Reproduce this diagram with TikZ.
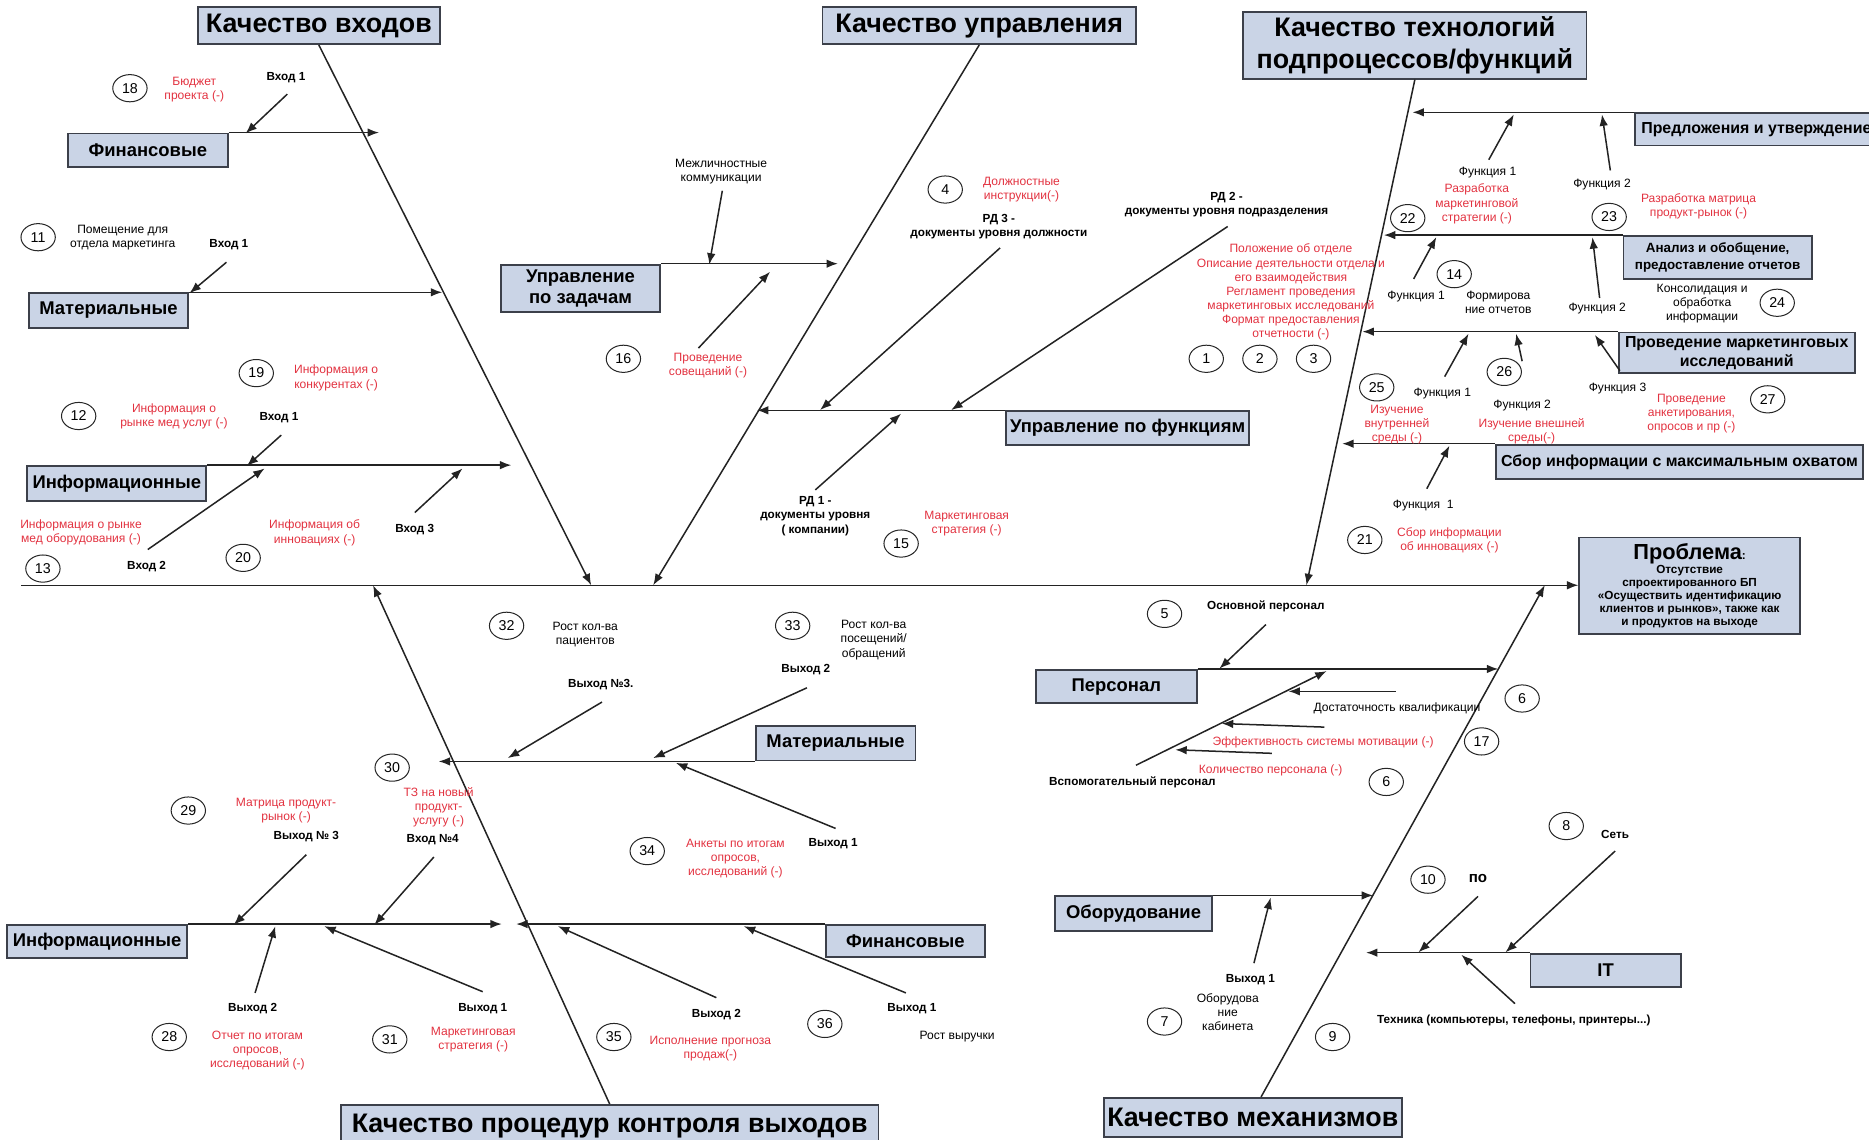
\documentclass[tikz,border=0pt]{standalone}
\usepackage{fontspec}
\setmainfont{Liberation Sans}
\usetikzlibrary{arrows.meta,shapes.geometric,calc}
\definecolor{boxfill}{RGB}{202,212,230}
\definecolor{boxline}{RGB}{60,64,74}
\definecolor{redtxt}{RGB}{226,50,64}
\definecolor{lnclr}{RGB}{35,35,35}
\begin{document}
\begin{tikzpicture}[x=0.025cm,y=-0.025cm,
    box/.style={draw=boxline,fill=boxfill,line width=1.1pt,inner sep=1pt,align=center},
    cat/.style={box,font=\bfseries\fontsize{16}{18.5}\selectfont},
    sub/.style={box,font=\bfseries\fontsize{11}{13}\selectfont},
    num/.style={ellipse,draw=black!85,line width=0.6pt,minimum width=0.72cm,
      minimum height=0.57cm,inner sep=0pt,font=\fontsize{8.5}{9}\selectfont},
    txt/.style={align=center,inner sep=0pt,font=\fontsize{7.2}{8.4}\selectfont},
    red/.style={txt,text=redtxt},
    lbl/.style={align=center,inner sep=0pt,font=\bfseries\fontsize{7}{8.4}\selectfont},
    arr/.style={draw=lnclr,line width=0.9pt,-{Latex[length=2.4mm,width=1.8mm]}},
  ]
  \useasboundingbox (0,0) rectangle (1568,956);

  \node[cat,minimum width=5.075cm,minimum height=0.775cm] (qin) at (267.5,21.5) {Качество входов};
  \node[cat,minimum width=6.575cm,minimum height=0.775cm] (qup) at (821.5,21.5) {Качество управления};
  \node[cat,minimum width=7.2cm,minimum height=1.4cm] (qtech) at (1187,38) {Качество технологий\\подпроцессов/функций};
  \node[cat,minimum width=11.275cm,minimum height=0.875cm] (qctl) at (511.5,944.5) {Качество процедур контроля выходов};
  \node[cat,minimum width=6.25cm,minimum height=0.825cm] (qmech) at (1051,937.5) {Качество механизмов};
  \node[box,minimum width=4.625cm,minimum height=2.025cm,font=\bfseries\fontsize{7}{7.8}\selectfont] (prob) at (1417.5,491.5)
    {{\fontsize{13}{15}\selectfont Проблема}:\\Отсутствие\\спроектированного БП\\«Осуществить идентификацию\\клиентов и рынков», также как\\и продуктов на выходе};

  \coordinate (s0) at (18,491);
  \draw[arr] (s0) -- (s0 -| prob.west);
  \coordinate (sp1) at (496,491);
  \coordinate (sp2) at (548,491);
  \coordinate (sp3) at (1096,491);
  \coordinate (sp4) at (313,491);
  \coordinate (sp5) at (1296,491);
  \draw[arr] (qin.south) -- (sp1);
  \draw[arr] (qup.south) -- (sp2);
  \draw[arr] (qtech.south) -- (sp3);
  \draw[arr] (qctl.north) -- (sp4);
  \draw[arr] ($(qmech.north)+(7,0)$) -- (sp5);

  \node[sub,minimum width=3.35cm,minimum height=0.7cm] (fin) at (124,126) {Финансовые};
  \node[sub,minimum width=3.35cm,minimum height=0.725cm] (mat) at (91,260.5) {Материальные};
  \node[sub,minimum width=3.75cm,minimum height=0.725cm] (inf) at (98,405.5) {Информационные};
  \node[sub,minimum width=3.35cm,minimum height=1cm] (zad) at (487,242) {Управление\\по задачам};
  \node[sub,minimum width=5.1cm,minimum height=0.7cm] (fun) at (946,359) {Управление по функциям};
  \node[sub,font=\bfseries\fontsize{9.5}{11}\selectfont,minimum width=5.075cm,minimum height=0.675cm] (pred) at (1473.5,108.5) {Предложения и утверждение};
  \node[sub,font=\bfseries\fontsize{8}{10}\selectfont,minimum width=3.95cm,minimum height=0.9cm] (anal) at (1441,216) {Анализ и обобщение,\\предоставление отчетов};
  \node[sub,font=\bfseries\fontsize{9.5}{11.5}\selectfont,minimum width=4.95cm,minimum height=0.85cm] (mark) at (1457,296) {Проведение маркетинговых\\исследований};
  \node[sub,font=\bfseries\fontsize{9.5}{11.5}\selectfont,minimum width=7.7cm,minimum height=0.725cm] (sbor) at (1409,387.5) {Сбор информации с максимальным охватом};
  \node[sub,minimum width=3.35cm,minimum height=0.725cm] (mat2) at (701,623.5) {Материальные};
  \node[sub,minimum width=3.775cm,minimum height=0.7cm] (inf2) at (81.5,790) {Информационные};
  \node[sub,minimum width=3.325cm,minimum height=0.675cm] (fin2) at (759.5,789.5) {Финансовые};
  \node[sub,minimum width=3.375cm,minimum height=0.7cm] (pers) at (936.5,576) {Персонал};
  \node[sub,minimum width=3.3cm,minimum height=0.725cm] (obor) at (951,766.5) {Оборудование};
  \node[sub,minimum width=3.15cm,minimum height=0.7cm] (it) at (1347,814) {IT};

  \foreach \b/\a/\x in {fin/north east/318, mat/north east/371, inf/north east/429,
      zad/north east/703, fun/north west/635, pred/north west/1185, anal/north west/1161,
      mark/north west/1143, sbor/north west/1126, mat2/south west/368, inf2/north east/421,
      fin2/north west/433, pers/north east/1257, obor/north east/1152, it/north west/1146}
    {\coordinate (h\b) at (\b.\a -| \x,0);
     \draw[arr] (\b.\a) -- (h\b);}

  \coordinate (vspt) at (953,642);
  \coordinate (vsph) at (1113,563);
  \draw[arr] (vspt) -- (vsph);

  \foreach \n/\xa/\ya/\xb/\yb in {a1/241/79/206/112, a2/190/220/159/246, a3/236/365/207/391,
      a4/124/461/222/393, a5/348/430/388/393, b1/606/160/595/222, b2/586/292/646/228,
      b3/839/208/688/344, b4/1030/190/798/344, b5/684/411/756/347, c1/1249/134/1270/96,
      c2/1351/143/1344/96, c3/1186/234/1205/199, c4/1342/250/1336/199, c5/1212/316/1232/280,
      c6/1277/303/1272/280, c7/1359/311/1338/281, c8/1197/410/1216/374, d1/505/589/426/636,
      d2/677/577/548/636, d3/701/695/567/640, d4/257/717/196/776, d5/364/719/314/776,
      d6/214/833/231/777, d7/405/832/272/777, d8/601/837/468/777, d9/760/833/624/777,
      e1/1062/524/1023/561, e2/1171/580/1081/580, e3/1111/610/1025/607, e4/1067/632/986/629,
      e5/1355/714/1263/799, e6/1240/752/1190/799, e7/1271/842/1226/801, e8/1052/808/1066/753}
    {\coordinate (t\n) at (\xa,\ya);
     \coordinate (h\n) at (\xb,\yb);
     \draw[arr] (t\n) -- (h\n);}

  \foreach \n/\x/\y in {18/109/74, 11/32/199, 19/215/313, 12/66/349, 13/36/477, 20/204/468,
      16/523/301, 4/793/159, 15/756/456, 22/1181/183, 23/1350/182, 14/1220/230, 24/1491/254,
      1/1012/301, 2/1057/301, 3/1102/301, 26/1262/312, 25/1155/325, 27/1483/335, 21/1145/453,
      32/425/525, 33/665/525, 30/329/644, 29/158/680, 34/543/714, 28/142/870, 31/327/872,
      35/515/870, 36/692/859, 5/977/515, 6/1277/586, 17/1243/622, 8/1314/693, 10/1198/738,
      9/1118/870, 7/977/857}
    \node[num] (n\n) at (\x,\y) {\n};
  \node[num] (n6b) at (1163,656) {6};

  \node[red] (r18) at (163,75) {Бюджет\\проекта (-)};
  \node[lbl] (l18) at (240,65) {Вход 1};
  \node[txt] (t11) at (103,199) {Помещение для\\отдела маркетинга};
  \node[lbl] (l11) at (192,205) {Вход 1};
  \node[red] (r19) at (282,317) {Информация о\\конкурентах (-)};
  \node[red] (r12) at (146,349) {Информация о\\рынке мед услуг (-)};
  \node[lbl] (l12) at (234,350) {Вход 1};
  \node[red] (r13) at (68,447) {Информация о рынке\\мед оборудования (-)};
  \node[lbl] (l13) at (123,475) {Вход 2};
  \node[red] (r20) at (264,447) {Информация об\\инновациях (-)};
  \node[lbl] (l20) at (348,444) {Вход 3};

  \node[txt] (t16) at (605,144) {Межличностные\\коммуникации};
  \node[red] (r16) at (594,307) {Проведение\\совещаний (-)};
  \node[red] (r4) at (857,159) {Должностные\\инструкции(-)};
  \node[lbl] (l4) at (838,190) {РД 3 -\\документы уровня должности};
  \node[lbl] (l3) at (1029,172) {РД 2 -\\документы уровня подразделения};
  \node[lbl] (l15) at (684,433) {РД 1 -\\документы уровня\\( компании)};
  \node[red] (r15) at (811,439) {Маркетинговая\\стратегия (-)};

  \node[txt] (f1a) at (1248,145) {Функция 1};
  \node[red] (r22) at (1239,171) {Разработка\\маркетинговой\\стратегии (-)};
  \node[txt] (f2a) at (1344,155) {Функция 2};
  \node[red] (r23) at (1425,173) {Разработка матрица\\продукт-рынок (-)};
  \node[txt] (f1b) at (1188,249) {Функция 1};
  \node[txt] (t14) at (1257,254) {Формирова\\ние отчетов};
  \node[txt] (f2b) at (1340,259) {Функция 2};
  \node[txt] (t24) at (1428,255) {Консолидация и\\обработка\\информации};
  \node[red] (rdoc) at (1083,245) {Положение об отделе\\Описание деятельности отдела и\\его взаимодействия\\Регламент проведения\\маркетинговых исследований\\Формат предоставления\\отчетности (-)};
  \node[txt] (f1c) at (1210,330) {Функция 1};
  \node[red] (r25) at (1172,356) {Изучение\\внутренней\\среды (-)};
  \node[txt] (f2c) at (1277,340) {Функция 2};
  \node[red] (r26) at (1285,362) {Изучение внешней\\среды(-)};
  \node[txt] (f3c) at (1357,326) {Функция 3};
  \node[red] (r27) at (1419,347) {Проведение\\анкетирования,\\опросов и пр (-)};
  \node[txt] (f1d) at (1194,424) {Функция\ \ 1};
  \node[red] (r21) at (1216,453) {Сбор информации\\об инновациях (-)};

  \node[txt] (t32) at (491,532) {Рост кол-ва\\пациентов};
  \node[txt] (t33) at (733,537) {Рост кол-ва\\посещений/\\обращений};
  \node[lbl] (l32) at (504,574) {Выход №3.};
  \node[lbl] (l33) at (676,562) {Выход 2};
  \node[red] (r30) at (368,677) {ТЗ на новый\\продукт-\\услугу (-)};
  \node[lbl] (l34) at (699,708) {Выход 1};
  \node[red] (r34) at (617,720) {Анкеты по итогам\\опросов,\\исследований (-)};
  \node[red] (r29) at (240,680) {Матрица продукт-\\рынок (-)};
  \node[lbl] (l29) at (257,702) {Выход № 3};
  \node[lbl] (l30) at (363,704) {Вход №4};
  \node[lbl] (l28) at (212,846) {Выход 2};
  \node[red] (r28) at (216,881) {Отчет по итогам\\опросов,\\исследований (-)};
  \node[lbl] (l31) at (405,846) {Выход 1};
  \node[red] (r31) at (397,872) {Маркетинговая\\стратегия (-)};
  \node[lbl] (l35) at (601,851) {Выход 2};
  \node[red] (r35) at (596,880) {Исполнение прогноза\\продаж(-)};
  \node[lbl] (l36) at (765,846) {Выход 1};
  \node[txt] (t36) at (803,870) {Рост выручки};

  \node[lbl] (l5) at (1062,509) {Основной персонал};
  \node[txt] (t6) at (1172,594) {Достаточность квалификации};
  \node[red] (r17) at (1110,623) {Эффективность системы мотивации (-)};
  \node[red] (r6) at (1066,646) {Количество персонала (-)};
  \node[lbl] (l6) at (950,656) {Вспомогательный персонал};
  \node[lbl] (l8) at (1355,700) {Сеть};
  \node[lbl,font=\bfseries\fontsize{9}{10}\selectfont] (l10) at (1240,737) {по};
  \node[lbl] (l9) at (1270,856) {Техника (компьютеры, телефоны, принтеры...)};
  \node[lbl] (l7) at (1049,822) {Выход 1};
  \node[txt] (t7) at (1030,849) {Оборудова\\ние\\кабинета};
\end{tikzpicture}
\end{document}
